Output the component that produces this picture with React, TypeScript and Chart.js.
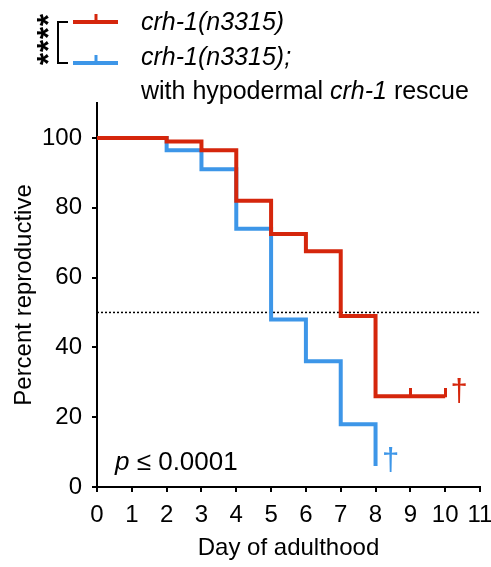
import React, { useEffect, useRef } from 'react';
import { Chart, registerables } from 'chart.js';
Chart.register(...registerables);

const FONT = "'Liberation Sans', Arial, Helvetica, sans-serif";
const RED = '#D5260C';
const BLUE = '#3D96E8';

// Kaplan-Meier style step data (day, percent reproductive)
const redDays = [0, 2, 3, 4, 5, 6, 7, 8, 10];
const redPct = [100, 99, 96.5, 82, 72.5, 67.5, 49, 26, 26];
const blueDays = [0, 2, 3, 4, 5, 6, 7, 8];
const bluePct = [100, 96.5, 91, 74, 48, 36, 18, 6];
const redCensorDays = [9, 10];
const redCensorPct = [26, 26];
const halfLineDays = [0, 11];
const halfLinePct = [50, 50];

const xMin = 0;
const xMax = 11;
const yMin = 0;
const yMax = 110;
const yTickMax = 100;
const yStep = 20;

const seriesNames = ['crh-1(n3315)', 'crh-1(n3315);'];
const rescueLine = ['with hypodermal ', 'crh-1', ' rescue'];
const xTitle = 'Day of adulthood';
const yTitle = 'Percent reproductive';
const pLabel = ['p', ' ≤ 0.0001'];
const stars = ['*', '*', '*', '*'];
// dagger annotations (end of follow-up), data coords
const daggerDays = [10.4, 8.43];
const daggerPct = [27.2, 7.4];
const daggerColors = [RED, BLUE];

function toPts(xs: number[], ys: number[]) {
  return xs.map((x, i) => ({ x, y: ys[i] }));
}

function censorMark(color: string) {
  const c = document.createElement('canvas');
  c.width = 3;
  c.height = 16;
  const g = c.getContext('2d')!;
  g.fillStyle = color;
  g.fillRect(0, 0, 3, 9);
  return c;
}

const overlayPlugin = {
  id: 'overlay',
  afterDraw(chart: any) {
    const ctx = chart.ctx as CanvasRenderingContext2D;
    const xs = chart.scales.x;
    const ys = chart.scales.y;
    ctx.save();
    const seg = (x1: number, y1: number, x2: number, y2: number) => {
      ctx.beginPath();
      ctx.moveTo(x1, y1);
      ctx.lineTo(x2, y2);
      ctx.stroke();
    };
    // legend swatches
    ctx.lineCap = 'butt';
    [[RED, 22], [BLUE, 63]].forEach(([col, y]: any) => {
      ctx.strokeStyle = col;
      ctx.lineWidth = 4;
      seg(73, y, 118, y);
      ctx.lineWidth = 3;
      seg(96, y, 96, y - 8);
    });
    // bracket
    ctx.strokeStyle = '#000';
    ctx.lineWidth = 2;
    ctx.beginPath();
    ctx.moveTo(68, 22);
    ctx.lineTo(58, 22);
    ctx.lineTo(58, 63);
    ctx.lineTo(68, 63);
    ctx.stroke();
    // asterisks
    ctx.fillStyle = '#000';
    ctx.font = `bold 31px ${FONT}`;
    ctx.textAlign = 'center';
    ctx.textBaseline = 'alphabetic';
    const starY = [20, 33, 46, 59];
    stars.forEach((s, i) => {
      ctx.save();
      ctx.translate(42, starY[i]);
      ctx.rotate(-Math.PI / 2);
      ctx.fillText(s, 0, 17);
      ctx.restore();
    });
    // legend text
    ctx.textAlign = 'left';
    ctx.font = `italic 25px ${FONT}`;
    ctx.fillText(seriesNames[0], 141, 30);
    ctx.fillText(seriesNames[1], 141, 65);
    let x = 141;
    rescueLine.forEach((t, i) => {
      ctx.font = (i === 1 ? 'italic ' : '') + `25px ${FONT}`;
      ctx.fillText(t, x, 99);
      x += ctx.measureText(t).width;
    });
    // p value
    x = 115;
    pLabel.forEach((t, i) => {
      ctx.font = (i === 0 ? 'italic ' : '') + `26px ${FONT}`;
      ctx.fillText(t, x, 470);
      x += ctx.measureText(t).width;
    });
    // daggers
    ctx.textAlign = 'center';
    ctx.font = `31px ${FONT}`;
    daggerDays.forEach((d, i) => {
      ctx.fillStyle = daggerColors[i];
      ctx.fillText('†', xs.getPixelForValue(d), ys.getPixelForValue(daggerPct[i]) + 9);
    });
    ctx.restore();
  },
};

export default function App() {
  const ref = useRef<HTMLCanvasElement>(null);
  useEffect(() => {
    if (!ref.current) return;
    const chart = new Chart(ref.current, {
      type: 'line',
      data: {
        datasets: [
          {
            data: toPts(redCensorDays, redCensorPct),
            showLine: false,
            pointStyle: censorMark(RED) as any,
            pointRadius: 5,
            borderWidth: 0,
          },
          {
            data: toPts(redDays, redPct),
            borderColor: RED,
            borderWidth: 4,
            stepped: 'before',
            pointRadius: 0,
            fill: false,
          },
          {
            data: toPts(blueDays, bluePct),
            borderColor: BLUE,
            borderWidth: 4,
            stepped: 'before',
            pointRadius: 0,
            fill: false,
          },
          {
            data: toPts(halfLineDays, halfLinePct),
            borderColor: '#000',
            borderWidth: 1.5,
            borderDash: [2, 2],
            pointRadius: 0,
            fill: false,
          },
        ],
      },
      options: {
        animation: false,
        responsive: true,
        maintainAspectRatio: false,
        layout: { padding: { top: 103, right: 11, left: 0, bottom: 0 } },
        plugins: { legend: { display: false }, tooltip: { enabled: false } },
        scales: {
          x: {
            type: 'linear',
            min: xMin,
            max: xMax,
            ticks: {
              stepSize: 1,
              color: '#000',
              font: { family: FONT, size: 24 },
              padding: 9,
              maxRotation: 0,
              autoSkip: false,
            },
            grid: { drawOnChartArea: false, drawTicks: true, tickLength: 5, color: '#000', lineWidth: 2 },
            border: { display: true, color: '#000', width: 2 },
            title: {
              display: true,
              text: xTitle,
              color: '#000',
              font: { family: FONT, size: 24 },
              padding: { top: 0, bottom: 4 },
            },
            afterFit: (s: any) => {
              s.height = 80;
              s.paddingRight = 0;
              s.paddingLeft = 0;
            },
          },
          y: {
            type: 'linear',
            min: yMin,
            max: yMax,
            ticks: {
              stepSize: yStep,
              color: '#000',
              font: { family: FONT, size: 24 },
              padding: 10,
            },
            afterBuildTicks: (s: any) => {
              s.ticks = s.ticks.filter((t: any) => t.value <= yTickMax);
            },
            grid: { drawOnChartArea: false, drawTicks: true, tickLength: 5, color: '#000', lineWidth: 2 },
            border: { display: true, color: '#000', width: 2 },
            title: {
              display: true,
              text: yTitle,
              color: '#000',
              font: { family: FONT, size: 24 },
              padding: { top: 10, bottom: 0 },
            },
            afterFit: (s: any) => {
              s.width = 97;
            },
          },
        },
      },
      plugins: [overlayPlugin],
    });
    return () => chart.destroy();
  }, []);
  return (
    <div style={{ position: 'fixed', left: 0, top: 0, width: 491, height: 567, background: '#fff' }}>
      <canvas ref={ref} />
    </div>
  );
}
